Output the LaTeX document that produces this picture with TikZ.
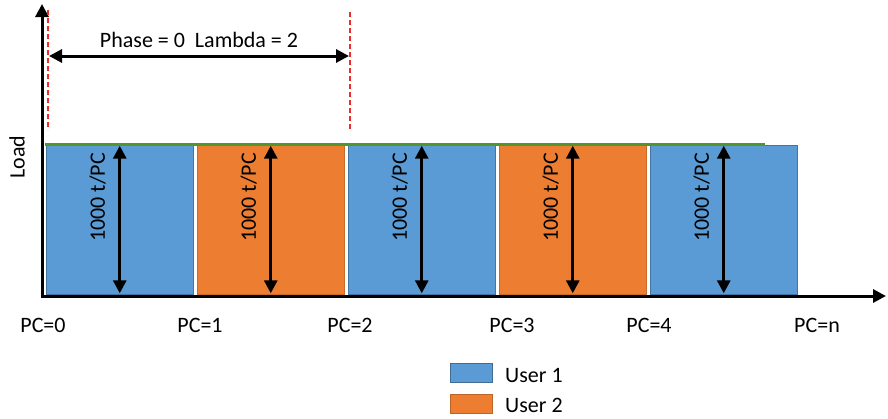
\documentclass[tikz,border=0pt]{standalone}
\usepackage{fontspec}
\setmainfont{Carlito}
\usetikzlibrary{arrows.meta,positioning}
\definecolor{userblue}{RGB}{91,155,213}
\definecolor{userorange}{RGB}{237,125,49}
\definecolor{loadgreen}{RGB}{80,150,45}
\definecolor{phasered}{RGB}{235,45,45}

\begin{document}
\begin{tikzpicture}[x=1pt,y=-1pt,>={Triangle[length=13pt,width=13pt]},
    font=\fontsize{22}{26}\selectfont,node distance=151pt,
    user1/.style={rectangle,fill=userblue,draw=userblue!75!black,line width=0.6pt,
        minimum width=146.5pt,minimum height=149pt,inner sep=0pt},
    user2/.style={user1,fill=userorange,draw=userorange!85!black},
    legbox/.style={rectangle,line width=1pt,minimum width=42pt,minimum height=19pt,inner sep=0pt},
    axis/.style={->,line width=3pt},
    dbl/.style={<->,line width=3pt,shorten >=1pt,shorten <=1pt},
    vlab/.style={rotate=90,inner sep=0pt},
    plain/.style={inner sep=0pt}]
    \useasboundingbox (0,0) rectangle (888,418);

    % axes
    \coordinate (o) at (42,296);
    \coordinate (ytip) at (42,4);
    \coordinate (xtip) at (886,296);
    \node[vlab] (load) at (17,157) {Load};

    % bars
    \node[user1] (b1) at (119.75,219.5) {};
    \node[user2] (b2) [right of=b1] {};
    \node[user1] (b3) [right of=b2] {};
    \node[user2] (b4) [right of=b3] {};
    \node[user1] (b5) [right of=b4] {};

    \draw[loadgreen,line width=3pt] (45,144) coordinate (g0) -- (765,144) coordinate (g1);

    \path (b1.north) edge[dbl] (b1.south)
          (b2.north) edge[dbl] (b2.south)
          (b3.north) edge[dbl] (b3.south)
          (b4.north) edge[dbl] (b4.south)
          (b5.north) edge[dbl] (b5.south);

    \node[vlab] (t1) at ([xshift=-22pt,yshift=22pt]b1.center) {1000 t/PC};
    \node[vlab] (t2) at ([xshift=-22pt,yshift=22pt]b2.center) {1000 t/PC};
    \node[vlab] (t3) at ([xshift=-22pt,yshift=22pt]b3.center) {1000 t/PC};
    \node[vlab] (t4) at ([xshift=-22pt,yshift=22pt]b4.center) {1000 t/PC};
    \node[vlab] (t5) at ([xshift=-22pt,yshift=22pt]b5.center) {1000 t/PC};

    \draw[axis] (o) -- (ytip);
    \draw[axis] ([xshift=-1.5pt]o) -- (xtip);

    % phase window
    \coordinate (p0t) at (48,10);
    \coordinate (p0b) at (48,130);
    \coordinate (p2t) at (350,12);
    \coordinate (p2b) at (350,130);
    \draw[phasered,dashed,line width=1.5pt,dash pattern=on 5pt off 3pt] (p0t) -- (p0b);
    \draw[phasered,dashed,line width=1.5pt,dash pattern=on 5pt off 3pt] (p2t) -- (p2b);
    \path (p0t |- 0,56) edge[dbl] (p2t |- 0,56);
    \node[plain] (phase) at (199,40) {Phase = 0\ \ Lambda = 2};

    % pc marks
    \node[plain] (pc0) at (43,325) {PC=0};
    \node[plain] (pc1) at (200,325) {PC=1};
    \node[plain] (pc2) at (350,325) {PC=2};
    \node[plain] (pc3) at (512,325) {PC=3};
    \node[plain] (pc4) at (649,325) {PC=4};
    \node[plain] (pcn) at (817,325) {PC=n};

    % legend
    \node[legbox,fill=userblue,draw=userblue!70!black] (leg1) at (471,373) {};
    \node[legbox,fill=userorange,draw=userorange!80!black] (leg2) at (471,404) {};
    \node[plain,anchor=west] (u1) at (505,375) {User 1};
    \node[plain,anchor=west] (u2) at (505,405) {User 2};
\end{tikzpicture}
\end{document}
